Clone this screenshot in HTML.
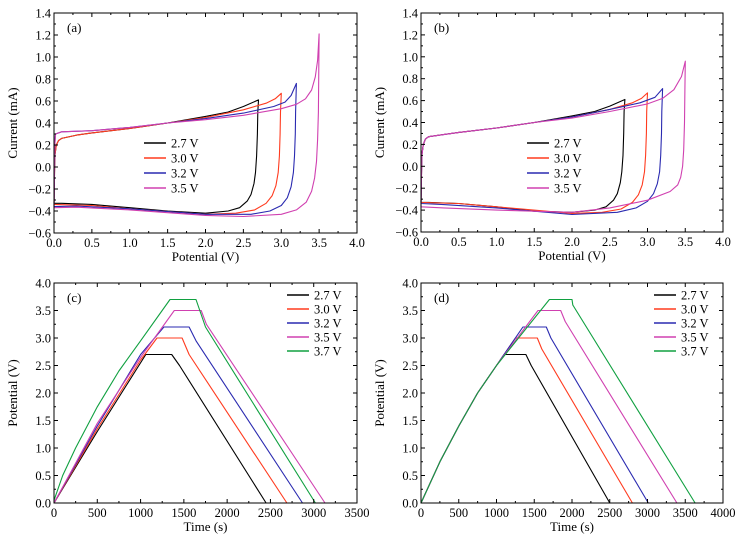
<!DOCTYPE html>
<html><head><meta charset="utf-8"><style>
html,body{margin:0;padding:0;background:#fff;}
svg{display:block;font-family:"Liberation Serif",serif;}
</style></head><body>
<svg id="fig" width="743" height="540" viewBox="0 0 743 540"></svg>
<script>
const cvLabels=["2.7 V","3.0 V","3.2 V","3.5 V"];
const cvColors=["#000000","#ff3b1f","#2a2ab0","#d040b0"];
const cvA_27=[[0,-0.33],[0.01,0.1],[0.03,0.2],[0.06,0.24],[0.1,0.26],[0.3,0.29],[0.5,0.31],[1.0,0.35],[1.5,0.40],[2.0,0.46],[2.3,0.50],[2.5,0.55],[2.7,0.61],[2.69,0.5],[2.685,0.3],[2.675,0.1],[2.66,-0.05],[2.64,-0.15],[2.6,-0.25],[2.55,-0.31],[2.45,-0.37],[2.3,-0.40],[2.0,-0.42],[1.5,-0.40],[1.0,-0.37],[0.5,-0.34],[0.1,-0.33],[0,-0.33]];
const cvA_30=[[0,-0.34],[0.01,0.1],[0.03,0.2],[0.06,0.24],[0.1,0.26],[0.3,0.29],[0.5,0.31],[1.0,0.35],[1.5,0.40],[2.0,0.45],[2.5,0.52],[2.8,0.58],[2.92,0.62],[3.0,0.67],[2.99,0.5],[2.985,0.3],[2.975,0.1],[2.96,-0.05],[2.93,-0.17],[2.88,-0.26],[2.8,-0.33],[2.65,-0.39],[2.4,-0.42],[2.0,-0.43],[1.0,-0.38],[0.5,-0.35],[0,-0.34]];
const cvA_32=[[0,-0.36],[0.01,0.2],[0.02,0.3],[0.1,0.32],[0.5,0.33],[1.0,0.36],[1.5,0.40],[2.0,0.44],[2.5,0.49],[2.9,0.55],[3.05,0.59],[3.13,0.65],[3.2,0.76],[3.19,0.5],[3.185,0.3],[3.175,0.1],[3.16,-0.05],[3.13,-0.18],[3.08,-0.28],[3.0,-0.35],[2.85,-0.40],[2.6,-0.43],[2.0,-0.43],[1.0,-0.38],[0.3,-0.355],[0,-0.36]];
const cvA_35=[[0,-0.37],[0.01,0.2],[0.02,0.3],[0.1,0.32],[0.5,0.33],[1.0,0.36],[1.5,0.40],[2.0,0.43],[2.5,0.47],[3.0,0.53],[3.2,0.57],[3.32,0.62],[3.4,0.7],[3.45,0.82],[3.48,0.97],[3.5,1.21],[3.495,0.8],[3.49,0.5],[3.48,0.25],[3.465,0.05],[3.44,-0.1],[3.4,-0.22],[3.33,-0.32],[3.2,-0.39],[3.0,-0.43],[2.5,-0.45],[2.0,-0.44],[1.0,-0.39],[0.3,-0.365],[0,-0.37]];
const cvB_27=[[0,-0.33],[0.01,0.1],[0.03,0.2],[0.06,0.25],[0.1,0.27],[0.3,0.29],[0.5,0.31],[1.0,0.35],[1.5,0.40],[2.0,0.46],[2.3,0.50],[2.5,0.55],[2.7,0.61],[2.69,0.5],[2.685,0.3],[2.675,0.1],[2.66,-0.05],[2.64,-0.15],[2.6,-0.25],[2.55,-0.31],[2.45,-0.37],[2.3,-0.40],[2.0,-0.42],[1.5,-0.41],[1.0,-0.37],[0.5,-0.34],[0.1,-0.33],[0,-0.33]];
const cvB_30=[[0,-0.33],[0.01,0.1],[0.03,0.2],[0.06,0.25],[0.1,0.27],[0.3,0.29],[0.5,0.31],[1.0,0.35],[1.5,0.40],[2.0,0.45],[2.5,0.52],[2.8,0.58],[2.92,0.62],[3.0,0.67],[2.99,0.5],[2.985,0.3],[2.975,0.1],[2.96,-0.05],[2.93,-0.17],[2.88,-0.26],[2.8,-0.33],[2.65,-0.39],[2.4,-0.42],[2.0,-0.43],[1.0,-0.37],[0.5,-0.34],[0,-0.33]];
const cvB_32=[[0,-0.34],[0.01,0.1],[0.03,0.2],[0.06,0.25],[0.1,0.27],[0.5,0.31],[1.0,0.35],[1.5,0.40],[2.0,0.45],[2.5,0.52],[2.9,0.58],[3.1,0.63],[3.2,0.71],[3.19,0.5],[3.185,0.3],[3.175,0.1],[3.16,-0.05],[3.13,-0.16],[3.08,-0.25],[3.0,-0.32],[2.85,-0.38],[2.6,-0.42],[2.0,-0.44],[1.0,-0.38],[0.3,-0.35],[0,-0.34]];
const cvB_35=[[0,-0.37],[0.01,0.1],[0.03,0.2],[0.06,0.25],[0.1,0.27],[0.5,0.31],[1.0,0.35],[1.5,0.40],[2.0,0.44],[2.5,0.50],[3.0,0.57],[3.2,0.62],[3.35,0.7],[3.45,0.82],[3.5,0.96],[3.495,0.7],[3.49,0.4],[3.48,0.15],[3.465,0.0],[3.44,-0.1],[3.4,-0.17],[3.3,-0.23],[3.0,-0.31],[2.5,-0.38],[2.0,-0.42],[1.0,-0.40],[0.3,-0.38],[0,-0.37]];
const gcdLabels=["2.7 V","3.0 V","3.2 V","3.5 V","3.7 V"];
const gcdColors=["#000000","#ff3b1f","#2a2ab0","#d040b0","#10a040"];
const gcdC_27=[[0,0],[500,1.3],[1060,2.7],[1360,2.7],[1450,2.5],[2450,0]];
const gcdC_30=[[0,0],[500,1.35],[1000,2.6],[1190,3.0],[1480,3.0],[1560,2.7],[2690,0]];
const gcdC_32=[[0,0],[500,1.4],[1000,2.7],[1270,3.2],[1560,3.2],[1640,2.95],[2870,0]];
const gcdC_35=[[0,0],[500,1.45],[1000,2.65],[1390,3.5],[1700,3.5],[1760,3.25],[3130,0]];
const gcdC_37=[[0,0.05],[100,0.5],[250,1.0],[500,1.75],[750,2.4],[1000,2.95],[1340,3.7],[1640,3.7],[1750,3.2],[3020,0]];
const gcdD_27=[[0,0],[250,0.75],[500,1.4],[750,2.0],[1000,2.5],[1100,2.7],[1390,2.7],[1460,2.5],[2500,0]];
const gcdD_30=[[0,0],[250,0.75],[500,1.4],[750,2.0],[1000,2.5],[1250,3.0],[1540,3.0],[1600,2.8],[2800,0]];
const gcdD_32=[[0,0],[250,0.75],[500,1.4],[750,2.0],[1000,2.5],[1350,3.2],[1660,3.2],[1720,3.0],[3010,0]];
const gcdD_35=[[0,0],[250,0.75],[500,1.4],[750,2.0],[1000,2.5],[1550,3.5],[1850,3.5],[1910,3.3],[3390,0]];
const gcdD_37=[[0,0],[250,0.75],[500,1.4],[750,2.0],[1000,2.5],[1700,3.7],[2000,3.7],[2010,3.6],[3630,0]];
const cvXTicks=[0,0.5,1,1.5,2,2.5,3,3.5,4];
const cvYTicks=[-0.6,-0.4,-0.2,0,0.2,0.4,0.6,0.8,1.0,1.2,1.4];
const gcdYTicks=[0,0.5,1,1.5,2,2.5,3,3.5,4];
const gcdCXTicks=[0,500,1000,1500,2000,2500,3000,3500];
const gcdDXTicks=[0,500,1000,1500,2000,2500,3000,3500,4000];

const NS="http://www.w3.org/2000/svg";
const fig=document.getElementById('fig');
function mk(tag,attrs,parent,text){const e=document.createElementNS(NS,tag);for(const k in attrs)e.setAttribute(k,attrs[k]);if(text!==undefined)e.textContent=text;(parent||fig).appendChild(e);return e;}
function panel(o){
  const g=mk('g',{});
  
  
  const sx=v=>o.L+(v-o.x0)/(o.x1-o.x0)*(o.R-o.L);
  const sy=v=>o.B-(v-o.y0)/(o.y1-o.y0)*(o.B-o.T);
  const fmt=o.xfmt;
  o.series.forEach((s,i)=>{
    const p=mk('polyline',{points:s.map(d=>sx(d[0]).toFixed(1)+','+sy(d[1]).toFixed(1)).join(' '),fill:'none',stroke:o.colors[i],'stroke-width':1.1,'stroke-linejoin':'round'},g);
    
    
  });
  const fr=mk('rect',{x:o.L,y:o.T,width:o.R-o.L,height:o.B-o.T,fill:'none',stroke:'#000','stroke-width':1},g);
  
  
  const xt=mk('g',{'font-size':12.5,'text-anchor':'middle'},g);
  
  
  o.xticks.forEach((v,i)=>{const x=sx(v);
    mk('line',{x1:x,x2:x,y1:o.B,y2:o.B-4,stroke:'#000'},xt);mk('line',{x1:x,x2:x,y1:o.T,y2:o.T+4,stroke:'#000'},xt);
    if(i<o.xticks.length-1){const xm=sx((v+o.xticks[i+1])/2);mk('line',{x1:xm,x2:xm,y1:o.B,y2:o.B-2,stroke:'#000'},xt);mk('line',{x1:xm,x2:xm,y1:o.T,y2:o.T+2,stroke:'#000'},xt);}
    mk('text',{x:x,y:o.B+14},xt,fmt(v));});
  const yt=mk('g',{'font-size':12.5,'text-anchor':'end'},g);
  
  
  o.yticks.forEach((v,i)=>{const y=sy(v);
    mk('line',{x1:o.L,x2:o.L+4,y1:y,y2:y,stroke:'#000'},yt);mk('line',{x1:o.R,x2:o.R-4,y1:y,y2:y,stroke:'#000'},yt);
    if(i<o.yticks.length-1){const ym=sy((v+o.yticks[i+1])/2);mk('line',{x1:o.L,x2:o.L+2,y1:ym,y2:ym,stroke:'#000'},yt);mk('line',{x1:o.R,x2:o.R-2,y1:ym,y2:ym,stroke:'#000'},yt);}
    mk('text',{x:o.L-3,y:y+4.5},yt,v.toFixed(1).replace('-','\u2212'));});
  const xl=mk('text',{x:(o.L+o.R)/2,y:o.B+28,'font-size':13,'text-anchor':'middle'},g,o.xlabel);
  
  
  const yc=(o.T+o.B)/2;
  const yl=mk('text',{x:o.L-37,y:yc,'font-size':13,'text-anchor':'middle',transform:`rotate(-90 ${o.L-37} ${yc})`},g,o.ylabel);
  
  
  const tag=mk('text',{x:o.L+13,y:o.T+19,'font-size':13},g,o.tag);
  
  
  const lg=mk('g',{'font-size':12.5},g);
  
  
  o.labels.forEach((lab,i)=>{const y=o.ly+i*o.ld;
    const e=mk('g',{},lg);
    
    
    mk('line',{x1:o.lx,x2:o.lx+22,y1:y,y2:y,stroke:o.colors[i],'stroke-width':1.5},e);
    mk('text',{x:o.lx+27,y:y+4.5},e,lab);});
}
const f1=v=>v.toFixed(1), f0=v=>String(v);
panel({name:'panel-a',L:54,R:357,T:13,B:233,x0:0,x1:4,y0:-0.6,y1:1.4,xticks:cvXTicks,yticks:cvYTicks,xfmt:f1,xlabel:'Potential (V)',ylabel:'Current (mA)',tag:'(a)',series:[cvA_27,cvA_30,cvA_32,cvA_35],colors:cvColors,labels:cvLabels,lx:144,ly:143,ld:15});
panel({name:'panel-b',L:421,R:723,T:13,B:232,x0:0,x1:4,y0:-0.6,y1:1.4,xticks:cvXTicks,yticks:cvYTicks,xfmt:f1,xlabel:'Potential (V)',ylabel:'Current (mA)',tag:'(b)',series:[cvB_27,cvB_30,cvB_32,cvB_35],colors:cvColors,labels:cvLabels,lx:527,ly:143,ld:15});
panel({name:'panel-c',L:54,R:357,T:283,B:503,x0:0,x1:3500,y0:0,y1:4,xticks:gcdCXTicks,yticks:gcdYTicks,xfmt:f0,xlabel:'Time (s)',ylabel:'Potential (V)',tag:'(c)',series:[gcdC_27,gcdC_30,gcdC_32,gcdC_35,gcdC_37],colors:gcdColors,labels:gcdLabels,lx:287,ly:295,ld:14});
panel({name:'panel-d',L:421,R:723,T:283,B:503,x0:0,x1:4000,y0:0,y1:4,xticks:gcdDXTicks,yticks:gcdYTicks,xfmt:f0,xlabel:'Time (s)',ylabel:'Potential (V)',tag:'(d)',series:[gcdD_27,gcdD_30,gcdD_32,gcdD_35,gcdD_37],colors:gcdColors,labels:gcdLabels,lx:654,ly:295,ld:14});
</script>
</body></html>
